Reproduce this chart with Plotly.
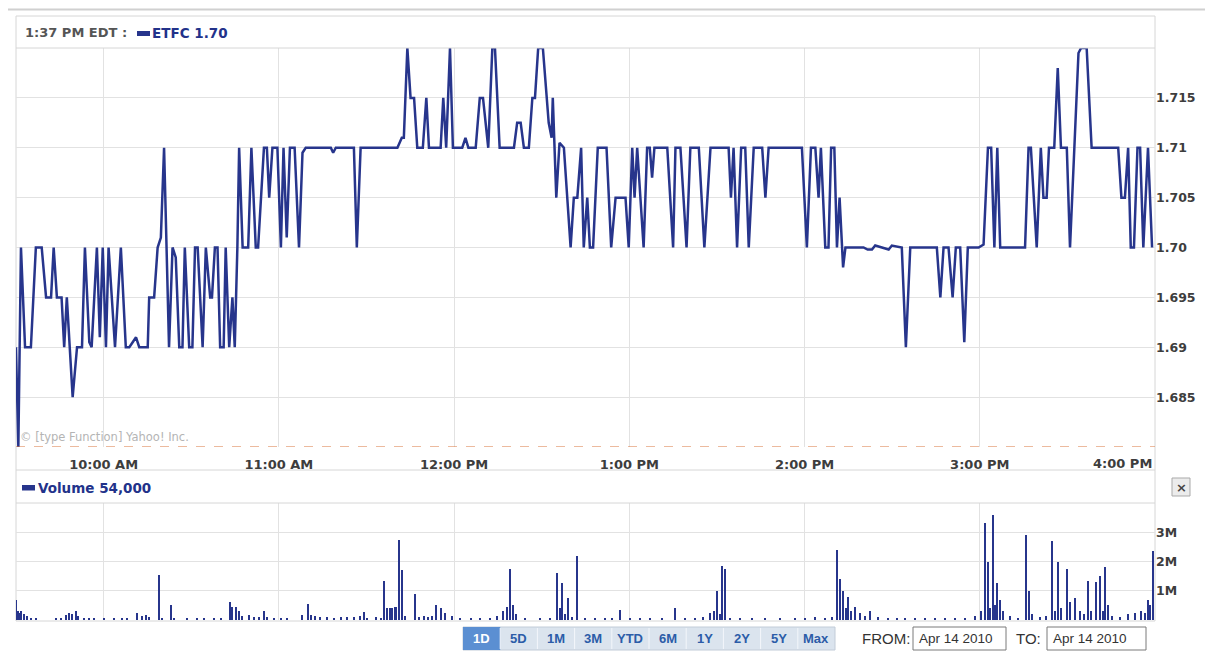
import pandas as pd
import plotly.graph_objects as go

W, H = 1213, 653
OFF = 8  # default page margin of the html body
FW, FH = W - OFF, H - OFF

# ---------------- data ----------------
symbol = "ETFC"
quote_time = "1:37 PM EDT"
last_price = 1.70
last_volume = 54000
prev_close = 1.68
session_date = "2010-04-14"

price_minutes = [
    0, 0.8, 1.7, 3.1, 5.1, 6.8, 8.8, 10.3, 12.0, 12.9, 14.0, 15.6, 16.5, 17.4, 19.4, 20.9, 22.6, 23.6, 25.1, 25.9,
    27.7, 28.7, 29.7, 30.8, 31.7, 33.9, 35.9, 37.6, 38.8, 41.1, 42.2, 45.1, 45.6, 47.3, 48.5, 49.6, 50.7, 52.4, 53.6, 54.7,
    55.9, 57.0, 57.8, 59.3, 60.4, 61.3, 62.2, 63.9, 65.0, 66.5, 67.1, 68.1, 69.0, 69.9, 71.1, 71.8, 73.0, 74.1, 74.9, 75.8,
    76.4, 77.6, 79.5, 80.6, 82.1, 82.9, 84.9, 85.9, 86.7, 87.8, 89.5, 90.7, 91.6, 92.7, 93.8, 95.4, 96.9, 98.1, 99.2, 107.8,
    108.6, 109.5, 115.7, 116.7, 118.0, 130.6, 132.1, 132.8, 134.0, 135.1, 136.3, 137.4, 139.3, 140.5, 141.4, 145.4, 146.3, 147.3, 148.6, 149.6,
    152.8, 153.9, 154.9, 157.4, 158.8, 159.9, 161.7, 163.1, 164.0, 165.6, 170.5, 171.6, 172.8, 173.9, 175.6, 176.8, 177.7, 178.8, 180.4, 182.4,
    183.4, 183.8, 185.0, 186.1, 187.6, 189.9, 191.0, 192.2, 193.5, 194.4, 195.6, 196.5, 197.6, 199.2, 202.2, 203.8, 205.3, 208.7, 209.8, 211.0,
    211.8, 212.7, 214.9, 216.1, 217.0, 217.8, 218.6, 223.0, 225.0, 225.8, 227.5, 229.6, 230.9, 233.8, 235.7, 237.8, 244.0, 244.8, 245.7, 246.9,
    248.3, 249.7, 250.9, 252.6, 255.5, 256.6, 257.7, 269.1, 270.8, 272.2, 273.7, 274.8, 275.6, 277.1, 278.2, 279.1, 280.2, 281.1, 282.0, 283.2,
    284.0, 290.2, 291.6, 293.1, 294.2, 296.5, 298.8, 299.9, 303.3, 304.7, 306.2, 315.3, 316.5, 317.6, 319.3, 320.7, 321.8, 323.3, 324.7, 325.9,
    329.6, 331.3, 332.8, 333.9, 335.0, 336.0, 337.0, 345.5, 346.7, 347.5, 349.5, 350.9, 351.8, 352.9, 353.7, 355.5, 356.7, 357.8, 359.8, 360.9,
    363.8, 364.7, 366.6, 368.3, 377.4, 378.5, 379.7, 380.8, 381.7, 382.8, 384.0, 384.9, 386.0, 387.6, 389.0,
]
price_values = [
    1.69, 1.68, 1.70, 1.69, 1.69, 1.70, 1.70, 1.695, 1.695, 1.70, 1.695, 1.695, 1.69, 1.695, 1.685, 1.69, 1.69, 1.70, 1.6905, 1.69,
    1.70, 1.691, 1.70, 1.69, 1.70, 1.69, 1.70, 1.69, 1.69, 1.691, 1.69, 1.69, 1.695, 1.695, 1.70, 1.701, 1.71, 1.69, 1.70, 1.699,
    1.69, 1.69, 1.70, 1.69, 1.69, 1.70, 1.70, 1.69, 1.70, 1.695, 1.695, 1.70, 1.70, 1.69, 1.69, 1.70, 1.69, 1.695, 1.69, 1.70,
    1.71, 1.70, 1.70, 1.71, 1.70, 1.70, 1.71, 1.71, 1.705, 1.71, 1.71, 1.70, 1.71, 1.701, 1.71, 1.71, 1.70, 1.7095, 1.71, 1.71,
    1.7095, 1.71, 1.71, 1.70, 1.71, 1.71, 1.711, 1.711, 1.72, 1.715, 1.715, 1.71, 1.71, 1.715, 1.71, 1.71, 1.715, 1.71, 1.72, 1.71,
    1.71, 1.711, 1.71, 1.71, 1.715, 1.715, 1.71, 1.72, 1.72, 1.71, 1.71, 1.7125, 1.7125, 1.71, 1.71, 1.715, 1.715, 1.72, 1.72, 1.7125,
    1.711, 1.715, 1.705, 1.7105, 1.71, 1.70, 1.705, 1.705, 1.71, 1.70, 1.705, 1.70, 1.70, 1.71, 1.71, 1.70, 1.705, 1.705, 1.70, 1.71,
    1.705, 1.71, 1.70, 1.71, 1.71, 1.707, 1.71, 1.71, 1.70, 1.71, 1.71, 1.70, 1.71, 1.71, 1.70, 1.71, 1.71, 1.705, 1.71, 1.70,
    1.71, 1.71, 1.70, 1.71, 1.71, 1.705, 1.71, 1.71, 1.70, 1.71, 1.71, 1.705, 1.71, 1.70, 1.70, 1.71, 1.71, 1.70, 1.705, 1.698,
    1.70, 1.70, 1.6998, 1.6998, 1.7002, 1.70, 1.6998, 1.7002, 1.70, 1.69, 1.70, 1.70, 1.695, 1.70, 1.70, 1.695, 1.70, 1.70, 1.6905, 1.70,
    1.70, 1.7003, 1.71, 1.71, 1.70, 1.71, 1.70, 1.70, 1.71, 1.71, 1.70, 1.71, 1.705, 1.705, 1.71, 1.71, 1.718, 1.71, 1.71, 1.70,
    1.7195, 1.72, 1.72, 1.71, 1.71, 1.705, 1.705, 1.71, 1.70, 1.70, 1.71, 1.71, 1.70, 1.71, 1.70,
]

volume_minutes = [
    0.0, 0.6, 1.1, 1.9, 2.8, 3.8, 5.1, 6.8, 13.7, 15.4, 17.1, 18.2, 19.4, 20.5, 21.3, 23.4, 25.1, 26.8, 30.2, 33.6,
    36.5, 38.0, 41.4, 43.3, 44.5, 45.6, 48.9, 50.2, 53.0, 54.2, 58.7, 62.2, 64.4, 67.8, 70.1, 73.2, 74.1, 75.3, 76.4, 77.6,
    79.8, 81.5, 83.2, 84.9, 86.1, 88.4, 90.7, 92.9, 98.1, 100.0, 100.9, 102.6, 104.3, 106.6, 108.9, 111.2, 113.5, 115.7, 118.0, 119.2,
    120.3, 123.2, 124.9, 126.2, 127.2, 128.1, 128.9, 129.7, 130.3, 131.3, 132.3, 133.4, 136.8, 138.0, 139.7, 141.1, 142.5, 144.0, 145.6, 147.1,
    149.5, 152.2, 155.7, 159.1, 162.5, 164.9, 166.9, 168.3, 169.3, 170.4, 171.4, 174.5, 179.6, 183.0, 185.4, 186.4, 187.1, 188.2, 189.2, 190.6,
    192.3, 195.0, 198.4, 201.8, 204.2, 207.0, 210.4, 213.8, 217.2, 221.3, 225.7, 229.2, 232.6, 235.4, 237.8, 239.1, 240.1, 241.1, 241.9, 242.7,
    244.6, 248.0, 252.1, 256.6, 261.7, 266.8, 270.3, 273.7, 277.1, 279.5, 281.2, 282.2, 283.3, 284.3, 285.1, 286.0, 287.3, 289.1, 290.8, 292.5,
    295.2, 298.7, 301.7, 304.5, 307.9, 311.3, 314.7, 318.2, 321.6, 325.0, 328.4, 330.5, 331.8, 332.9, 333.7, 334.6, 335.4, 335.9, 337.0, 338.0,
    340.4, 343.1, 345.9, 346.9, 347.9, 350.6, 352.7, 354.7, 355.8, 356.8, 357.8, 359.9, 360.9, 362.6, 364.3, 365.9, 367.0, 368.0, 369.7, 371.1,
    372.1, 372.8, 373.8, 375.2, 378.0, 380.7, 383.1, 385.2, 386.6, 387.6, 388.5, 389.3,
]
volume_values = [
    700000, 300000, 250000, 300000, 200000, 120000, 50000, 50000, 80000, 60000, 180000, 250000, 200000, 320000, 150000, 80000, 80000, 50000, 40000, 50000,
    50000, 50000, 250000, 150000, 180000, 100000, 1550000, 50000, 500000, 50000, 40000, 70000, 50000, 50000, 70000, 600000, 450000, 450000, 320000, 150000,
    170000, 100000, 100000, 300000, 100000, 50000, 50000, 50000, 170000, 550000, 170000, 150000, 100000, 100000, 70000, 100000, 100000, 100000, 120000, 270000,
    70000, 100000, 70000, 1350000, 400000, 400000, 400000, 450000, 450000, 2750000, 1700000, 150000, 900000, 100000, 150000, 100000, 150000, 500000, 400000, 250000,
    150000, 80000, 50000, 80000, 60000, 150000, 300000, 450000, 1750000, 500000, 200000, 80000, 60000, 80000, 1600000, 400000, 1250000, 200000, 750000, 100000,
    2200000, 60000, 80000, 80000, 60000, 350000, 60000, 60000, 60000, 50000, 400000, 80000, 80000, 100000, 250000, 300000, 1000000, 200000, 1850000, 1750000,
    80000, 60000, 60000, 60000, 50000, 60000, 60000, 100000, 80000, 100000, 2400000, 1400000, 1000000, 400000, 800000, 300000, 450000, 250000, 150000, 300000,
    100000, 80000, 60000, 80000, 80000, 70000, 80000, 80000, 70000, 80000, 120000, 300000, 3300000, 2000000, 400000, 3600000, 500000, 1250000, 700000, 300000,
    150000, 80000, 2900000, 1000000, 200000, 100000, 150000, 2700000, 300000, 2000000, 400000, 1750000, 600000, 750000, 300000, 200000, 1350000, 300000, 1300000, 1500000,
    300000, 1800000, 500000, 150000, 100000, 200000, 250000, 300000, 250000, 700000, 500000, 2350000,
]

price_ticks = [1.685, 1.69, 1.695, 1.70, 1.705, 1.71, 1.715, 1.72]
price_tick_text = ["1.685", "1.69", "1.695", "1.70", "1.705", "1.71", "1.715", ""]
volume_ticks = [1e6, 2e6, 3e6, 4e6]
volume_tick_text = ["1M", "2M", "3M", ""]
hour_ticks = ["10:00", "11:00", "12:00", "13:00", "14:00", "15:00"]
hour_tick_text = ["10:00 AM", "11:00 AM", "12:00 PM", "1:00 PM", "2:00 PM", "3:00 PM"]
last_hour_label = "4:00 PM"
range_buttons = ["1D", "5D", "1M", "3M", "YTD", "6M", "1Y", "2Y", "5Y", "Max"]
from_date = "Apr 14 2010"
to_date = "Apr 14 2010"
watermark = "\u00a9 [type Function] Yahoo! Inc."

assert len(price_minutes) == len(price_values)
assert len(volume_minutes) == len(volume_values)

# ---------------- helpers ----------------
base = pd.Timestamp(session_date + " 09:30")
t_open = base
t_close = pd.Timestamp(session_date + " 16:00")


def to_time(mins):
    return [base + pd.Timedelta(minutes=m) for m in mins]


def px(x):
    return (x - OFF) / FW


def py(y):
    return 1 - (y - OFF) / FH


NAVY = "#27358c"
GRID = "#e2e2e2"
FRAME = "#d6d6d6"
LABEL = "#3d3d3d"
FONT = "DejaVu Sans"

fig = go.Figure()

fig.add_trace(go.Scatter(
    x=to_time(price_minutes), y=price_values, mode="lines",
    line=dict(color=NAVY, width=2.5), xaxis="x", yaxis="y", hoverinfo="skip",
))
fig.add_trace(go.Bar(
    x=to_time(volume_minutes), y=volume_values, width=28000,
    marker=dict(color=NAVY, line=dict(width=0)), xaxis="x2", yaxis="y2", hoverinfo="skip",
))

xdom = [px(16), px(1155)]
tickfont = dict(family=FONT, size=12.5, color=LABEL, weight="bold")
xtickfont = dict(family=FONT, size=13, color=LABEL, weight="bold")

fig.update_layout(
    width=FW, height=FH, margin=dict(l=0, r=0, t=0, b=0),
    paper_bgcolor="white", plot_bgcolor="white", showlegend=False,
    xaxis=dict(domain=xdom, range=[t_open, t_close], type="date", anchor="y",
               tickvals=[pd.Timestamp(session_date + " " + h) for h in hour_ticks],
               ticktext=hour_tick_text, showgrid=True, gridcolor=GRID, gridwidth=1,
               ticks="outside", ticklen=5, tickcolor="rgba(0,0,0,0)",
               tickfont=xtickfont, showline=False, zeroline=False, fixedrange=True),
    yaxis=dict(domain=[py(447), py(48)], range=[1.68, 1.72], side="right", anchor="x",
               tickvals=price_ticks, ticktext=price_tick_text, showgrid=True,
               gridcolor=GRID, gridwidth=1, ticks="", tickfont=tickfont,
               showline=False, zeroline=False, fixedrange=True),
    xaxis2=dict(domain=xdom, range=[t_open, t_close], type="date", anchor="y2",
                tickvals=[pd.Timestamp(session_date + " " + h) for h in hour_ticks],
                showticklabels=False, showgrid=True, gridcolor=GRID, gridwidth=1,
                ticks="", showline=False, zeroline=False, fixedrange=True),
    yaxis2=dict(domain=[py(620), py(503)], range=[0, 4e6], side="right", anchor="x2",
                tickvals=volume_ticks, ticktext=volume_tick_text, showgrid=True,
                gridcolor=GRID, gridwidth=1, ticks="", tickfont=tickfont,
                showline=False, zeroline=False, fixedrange=True),
    bargap=0,
)

shapes = []
# outer container top edge
shapes.append(dict(type="line", xref="paper", yref="paper", x0=0, x1=1, y0=py(9.5), y1=py(9.5),
                   line=dict(color="#d0d0d0", width=2), layer="below"))
# main frame
shapes.append(dict(type="rect", xref="paper", yref="paper", x0=px(16), x1=px(1155), y0=py(621), y1=py(16),
                   line=dict(color=FRAME, width=1), layer="below"))
for yy in (48, 470, 503):
    shapes.append(dict(type="line", xref="paper", yref="paper", x0=px(16), x1=px(1155), y0=py(yy), y1=py(yy),
                       line=dict(color=FRAME, width=1)))
# previous close dashed line
shapes.append(dict(type="line", xref="x domain", yref="y", x0=0, x1=1, y0=prev_close, y1=prev_close,
                   line=dict(color="#d9773f", width=1.2, dash="dash")))
# legend swatches
shapes.append(dict(type="rect", xref="paper", yref="paper", x0=px(137), x1=px(150), y0=py(36), y1=py(31),
                   fillcolor=NAVY, line=dict(width=0)))
shapes.append(dict(type="rect", xref="paper", yref="paper", x0=px(22), x1=px(35), y0=py(490.5), y1=py(485),
                   fillcolor=NAVY, line=dict(width=0)))
# close button
shapes.append(dict(type="rect", xref="paper", yref="paper", x0=px(1172), x1=px(1190), y0=py(496), y1=py(478),
                   fillcolor="#ececec", line=dict(color="#a9a9a9", width=1)))

annotations = []


def text(x, y, s, size=12, color=LABEL, bold=True, xanchor="left", family=FONT):
    annotations.append(dict(xref="paper", yref="paper", x=px(x), y=py(y), text=s, showarrow=False,
                            xanchor=xanchor, yanchor="middle",
                            font=dict(family=family, size=size, color=color,
                                      weight="bold" if bold else "normal")))


text(23, 33, quote_time + " :", size=13, color="#555555")
text(150, 33, f"{symbol} {last_price:.2f}", size=13.5, color="#22328a")
text(36, 488, f"Volume {last_volume:,}", size=13.5, color="#22328a")
text(18, 437, watermark, size=11.5, color="#b4b4b4", bold=False)
text(1181, 487, "\u00d7", size=13, color="#444444", xanchor="center")

# 4:00 PM label anchored right at the close
annotations.append(dict(xref="x", yref="paper", x=t_close, y=py(463), text=last_hour_label,
                        showarrow=False, xanchor="right", yanchor="middle", xshift=-1,
                        font=xtickfont))

# range buttons
bx0, bw = 463, 37.2
shapes.append(dict(type="rect", xref="paper", yref="paper", x0=px(bx0), x1=px(bx0 + bw * len(range_buttons)),
                   y0=py(650), y1=py(627), fillcolor="#dbe4ee", line=dict(color="#c2ccd8", width=1)))
for i, b in enumerate(range_buttons):
    x0 = bx0 + i * bw
    if i == 0:
        shapes.append(dict(type="rect", xref="paper", yref="paper", x0=px(x0), x1=px(x0 + bw),
                           y0=py(650), y1=py(627), fillcolor="#5b8fd2", line=dict(width=0)))
    else:
        shapes.append(dict(type="line", xref="paper", yref="paper", x0=px(x0), x1=px(x0),
                           y0=py(649), y1=py(628), line=dict(color="#f4f7fb", width=1)))
    text(x0 + bw / 2, 638.5, b, size=13, color="white" if i == 0 else "#2c5ca8",
         xanchor="center", family="Liberation Sans")

text(860, 638.5, "FROM:", size=15, color="#333333", bold=False, family="Liberation Sans")
shapes.append(dict(type="rect", xref="paper", yref="paper", x0=px(913), x1=px(1006), y0=py(650), y1=py(627),
                   fillcolor="white", line=dict(color="#7a7a7a", width=1)))
text(917, 638.5, from_date, size=13.5, color="#333333", bold=False, family="Liberation Sans")
text(1014, 638.5, "TO:", size=15, color="#333333", bold=False, family="Liberation Sans")
shapes.append(dict(type="rect", xref="paper", yref="paper", x0=px(1047), x1=px(1146), y0=py(650), y1=py(627),
                   fillcolor="white", line=dict(color="#7a7a7a", width=1)))
text(1051, 638.5, to_date, size=13.5, color="#333333", bold=False, family="Liberation Sans")

fig.update_layout(shapes=shapes, annotations=annotations)
fig.write_html("out.html")
